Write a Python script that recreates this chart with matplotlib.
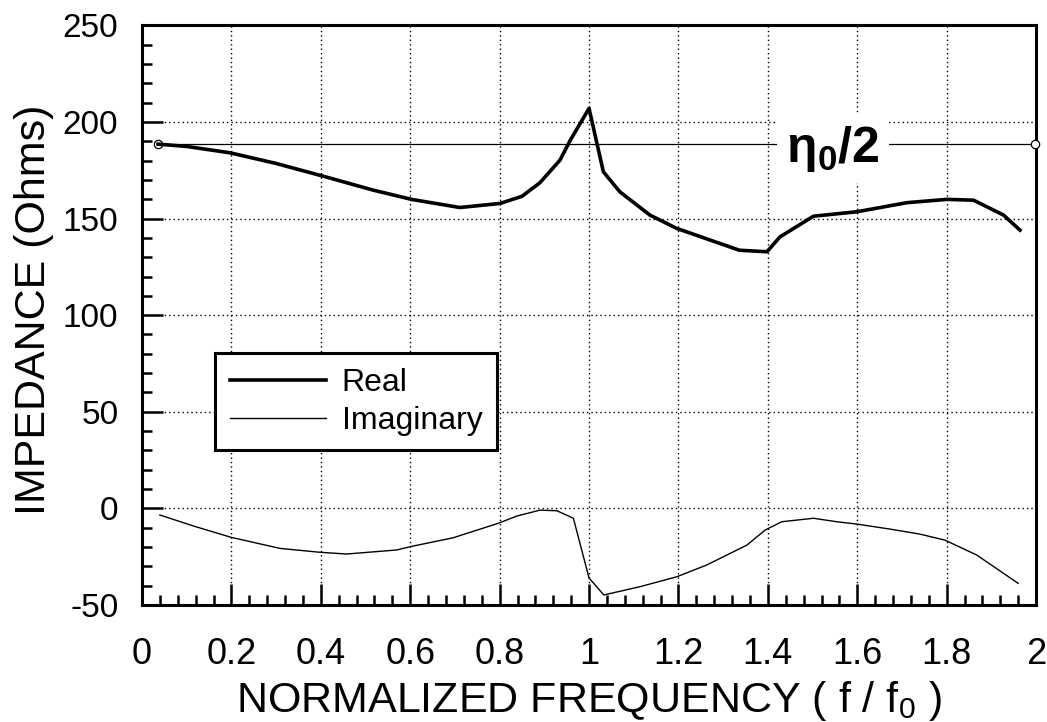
import matplotlib
matplotlib.use("Agg")
import matplotlib.pyplot as plt
from matplotlib.ticker import MultipleLocator, FixedLocator

plt.rcParams['font.family'] = ['Liberation Sans', 'DejaVu Sans']
plt.rcParams['mathtext.fontset'] = 'custom'
plt.rcParams['mathtext.rm'] = 'Liberation Sans'
plt.rcParams['mathtext.bf'] = 'Liberation Sans:bold'

# normalized frequency f/f0 and input impedance (Ohms)
real_f = [0.036, 0.10, 0.197, 0.30, 0.404, 0.517, 0.603, 0.711, 0.801, 0.85,
          0.89, 0.935, 0.958, 1.0, 1.032, 1.069, 1.136, 1.196, 1.336, 1.398,
          1.427, 1.502, 1.599, 1.711, 1.80, 1.86, 1.927, 1.964]
real_z = [188.5, 187.3, 184.0, 178.5, 172.0, 164.7, 159.9, 155.7, 157.8, 161.5,
          168.5, 180.2, 190.5, 207.0, 174.2, 163.8, 151.8, 144.9, 133.6, 132.8,
          140.5, 151.2, 153.5, 158.2, 159.9, 159.5, 151.8, 144.0]

imag_f = [0.04, 0.115, 0.20, 0.309, 0.398, 0.458, 0.57, 0.60, 0.696, 0.797,
          0.838, 0.89, 0.928, 0.965, 1.0, 1.033, 1.114, 1.196, 1.263, 1.353,
          1.394, 1.431, 1.502, 1.554, 1.599, 1.673, 1.74, 1.796, 1.867, 1.96]
imag_z = [-3.4, -9.1, -15.0, -20.7, -22.7, -23.6, -21.5, -19.8, -15.2, -7.7,
          -4.0, -0.9, -1.2, -5.1, -36.0, -44.8, -40.5, -35.4, -29.3, -19.0,
          -11.2, -6.9, -5.1, -6.9, -8.1, -10.7, -13.3, -16.4, -24.1, -38.8]

# half the free-space impedance
eta_f = [0.036, 1.998]
eta_half = 376.7 / 2

x_ticks = [0, 0.2, 0.4, 0.6, 0.8, 1.0, 1.2, 1.4, 1.6, 1.8, 2.0]
x_labels = ['0', '0.2', '0.4', '0.6', '0.8', '1', '1.2', '1.4', '1.6', '1.8', '2']
y_ticks = [-50, 0, 50, 100, 150, 200, 250]
y_labels = ['-50', '0', '50', '100', '150', '200', '250']

fig = plt.figure(figsize=(10.47, 7.22), dpi=100)
ax = fig.add_axes([0.1356, 0.162, 0.854, 0.803])

ax.plot(eta_f, [eta_half, eta_half], color='black', lw=0.9, marker='o',
        ms=6, mfc='white', mec='black', mew=0.9, clip_on=False, zorder=3)
ax.plot(real_f, real_z, color='black', lw=2.6, label='Real', zorder=4)
ax.plot(imag_f, imag_z, color='black', lw=1.0, label='Imaginary', zorder=4)

ax.text(1.546, 186, r'η$_\mathbf{0}$/2', fontsize=36, fontweight='bold',
        ha='center', va='center', zorder=5,
        bbox=dict(facecolor='white', edgecolor='none', pad=7))

ax.set_xlim(0, 2)
ax.set_ylim(-50, 250)
ax.xaxis.set_major_locator(FixedLocator(x_ticks))
ax.set_xticklabels(x_labels)
ax.yaxis.set_major_locator(FixedLocator(y_ticks))
ax.set_yticklabels(y_labels)
ax.xaxis.set_minor_locator(MultipleLocator(0.04))
ax.yaxis.set_minor_locator(MultipleLocator(10))

ax.tick_params(which='both', direction='in', top=False, right=False, width=1.8)
ax.tick_params(which='major', length=15)
ax.tick_params(which='minor', length=7)
ax.tick_params(axis='x', labelsize=26, pad=23)
ax.tick_params(axis='y', labelsize=24, pad=17)

ax.grid(True, which='major', color='black', linestyle=(0, (1, 2.2)), lw=1.0)
for side in ax.spines.values():
    side.set_linewidth(2.2)

ax.set_ylabel('IMPEDANCE (Ohms)', fontsize=31)
ax.yaxis.set_label_coords(-0.098, 0.509)
xlab = ax.set_xlabel(r'NORMALIZED FREQUENCY ( f / f$_\mathregular{0}$ )', fontsize=31)
xlab.set_verticalalignment('baseline')
ax.xaxis.set_label_coords(0.5, -0.184)

leg = ax.legend(loc='upper left', bbox_to_anchor=(0.082, 0.434), borderaxespad=0,
                fontsize=23, handlelength=3.0, handletextpad=0.5, fancybox=False,
                framealpha=1, edgecolor='black', borderpad=0.46, labelspacing=0.24)
leg.get_frame().set_linewidth(2.2)

fig.savefig('out.png', dpi=100)
